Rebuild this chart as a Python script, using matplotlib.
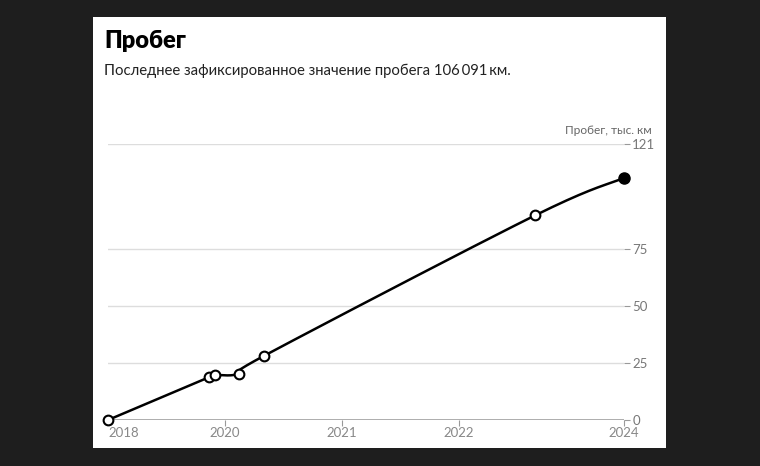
import numpy as np
import matplotlib.pyplot as plt
from matplotlib.patches import Rectangle

plt.rcParams['font.family'] = ['Lato', 'DejaVu Sans']

# data (x in decimal years)
dates = [2019.0, 2019.863, 2019.915, 2020.117, 2020.336, 2022.65, 2023.41]
mileage = [0, 18.7, 19.7, 20.3, 28.2, 89.7, 106.091]
xtick_pos = [2019.0, 2020, 2021, 2022, 2023.41]
xtick_labels = ['2018', '2020', '2021', '2022', '2024']
ytick_pos = [0, 25, 50, 75, 121]


def cardinal(ax, x, y, n=40):
    # cardinal spline (tension 0) computed in screen space, like d3.curveCardinal
    pts = ax.transData.transform(np.column_stack([x, y]))
    pts = np.vstack([pts[0], pts, pts[-1]])
    out = []
    for i in range(1, len(pts) - 2):
        p0, p1, p2, p3 = pts[i - 1], pts[i], pts[i + 1], pts[i + 2]
        c1 = p1 + (p2 - p0) / 6
        c2 = p2 - (p3 - p1) / 6
        u = np.linspace(0, 1, n)[:, None]
        seg = (1 - u) ** 3 * p1 + 3 * u * (1 - u) ** 2 * c1 + 3 * u ** 2 * (1 - u) * c2 + u ** 3 * p2
        out.append(seg)
    out = ax.transData.inverted().transform(np.vstack(out))
    return out[:, 0], out[:, 1]


fig = plt.figure(figsize=(7.6, 4.66), dpi=100, facecolor='#1e1e1e')
fig.patches.append(Rectangle((93 / 760, 1 - 448 / 466), 573 / 760, 431 / 466,
                             transform=fig.transFigure, facecolor='white',
                             edgecolor='none', zorder=-10))

ax = fig.add_axes([108 / 760, 46 / 466, 516 / 760, 276 / 466])
ax.set_facecolor('none')
ax.set_xlim(dates[0], dates[-1])
ax.set_ylim(0, 121)

for v in ytick_pos[1:]:
    ax.axhline(v, color='#dddddd', lw=1, zorder=1)
ax.axhline(0, color='#a0a0a0', lw=1.2, zorder=1)

cx, cy = cardinal(ax, dates, mileage)
ax.plot(cx, cy, color='black', lw=1.8, zorder=3, clip_on=False)
ax.plot(dates[:-1], mileage[:-1], 'o', ms=7, mfc='white', mec='black', mew=1.5,
        zorder=4, clip_on=False)
ax.plot(dates[-1], mileage[-1], 'o', ms=8, color='black', zorder=4, clip_on=False)

for sp in ax.spines.values():
    sp.set_visible(False)

ax.yaxis.tick_right()
ax.set_yticks(ytick_pos)
ax.set_yticklabels([str(v) for v in ytick_pos])
ax.tick_params(axis='y', length=4, width=0.8, color='#999999', pad=2,
               labelsize=9.5, labelcolor='#777777')

ax.set_xticks(xtick_pos)
ax.set_xticklabels(xtick_labels)
ax.tick_params(axis='x', length=4, width=0.8, color='#999999', pad=1,
               labelsize=9.5, labelcolor='#888888')
ax.get_xticklabels()[0].set_ha('left')
ax.xaxis.get_major_ticks()[0].tick1line.set_visible(False)

fig.text(652 / 760, 1 - 131 / 466, 'Пробег, тыс. км', ha='right', va='center',
         fontsize=8.6, color='#666666')
fig.text(104 / 760, 1 - 41 / 466, 'Пробег', ha='left', va='center',
         fontsize=17, fontweight='heavy', color='black')
fig.text(104 / 760, 1 - 71 / 466, 'Последнее зафиксированное значение пробега 106\u2009091\u2009км.',
         ha='left', va='center', fontsize=10.75, color='#222222')

fig.savefig('out.png', dpi=100, facecolor=fig.get_facecolor())
